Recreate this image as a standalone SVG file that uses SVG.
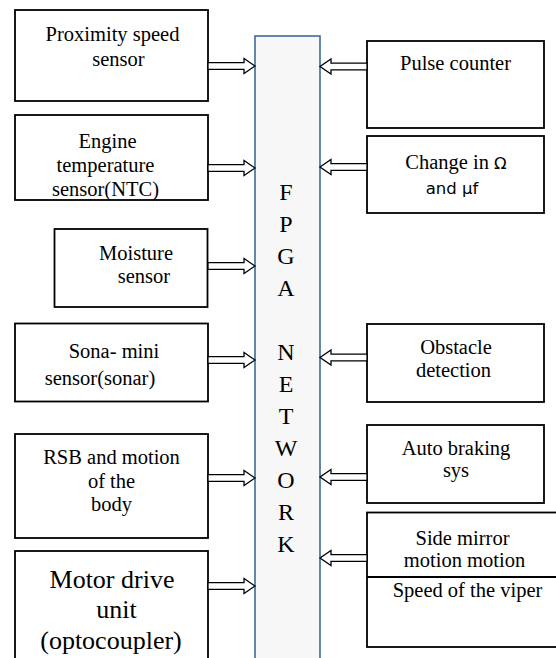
<svg xmlns="http://www.w3.org/2000/svg" xmlns:xlink="http://www.w3.org/1999/xlink" width="556" height="658" viewBox="0 0 556 658">
<style>
.box{fill:#fff;stroke:#000;stroke-width:1.8}
.t{font-family:"Liberation Serif","Times New Roman",serif;font-size:20.5px;fill:#000;text-anchor:middle}
.big{font-size:26px}
.s{font-family:"DejaVu Sans",Verdana,sans-serif;font-size:16.5px}
.fp{font-family:"Liberation Serif","Times New Roman",serif;font-size:24px;fill:#000;text-anchor:middle}
.arr{fill:#fff;stroke:#000;stroke-width:1.3;stroke-linejoin:miter}
</style>
<defs>
<path id="ar" class="arr" d="M0,-3.3 H36 V-7.5 L47,0 L36,7.5 V3.3 H0 Z"/>
<path id="al" class="arr" d="M0,-3.3 H-36 V-7.5 L-47,0 L-36,7.5 V3.3 H0 Z"/>
</defs>
<rect width="556" height="658" fill="#fff"/>

<g id="fpga">
<rect x="255" y="36" width="65" height="640" fill="#f7f7f7" stroke="#3f6a9a" stroke-width="1.6"/>
<text class="fp" x="286" y="200">F</text>
<text class="fp" x="286" y="232">P</text>
<text class="fp" x="286" y="264">G</text>
<text class="fp" x="286" y="296">A</text>
<text class="fp" x="286" y="360">N</text>
<text class="fp" x="286" y="392">E</text>
<text class="fp" x="286" y="424">T</text>
<text class="fp" x="286" y="456">W</text>
<text class="fp" x="286" y="488">O</text>
<text class="fp" x="286" y="520">R</text>
<text class="fp" x="286" y="552">K</text>
</g>

<g id="proximity">
<rect class="box" x="15" y="10" width="193" height="91"/>
<text class="t" x="112.5" y="40.5">Proximity speed</text>
<text class="t" x="118.5" y="65.5">sensor</text>
</g>

<g id="engine">
<rect class="box" x="15" y="115" width="193" height="85"/>
<text class="t" x="107.5" y="148">Engine</text>
<text class="t" x="105.5" y="172">temperature</text>
<text class="t" x="105.5" y="196">sensor(NTC)</text>
</g>

<g id="moisture">
<rect class="box" x="54.5" y="229" width="153" height="78"/>
<text class="t" x="136" y="260">Moisture</text>
<text class="t" x="144" y="283">sensor</text>
</g>

<g id="sona">
<rect class="box" x="15" y="323.5" width="193" height="78"/>
<text class="t" x="114" y="358">Sona- mini</text>
<text class="t" x="100" y="385">sensor(sonar)</text>
</g>

<g id="rsb">
<rect class="box" x="15" y="434" width="193" height="104"/>
<text class="t" x="111.5" y="463.5">RSB and motion</text>
<text class="t" x="111.5" y="487.5">of the</text>
<text class="t" x="111.5" y="511">body</text>
</g>

<g id="motor">
<rect class="box" x="15" y="551" width="193" height="130"/>
<text class="t big" x="112" y="587.5">Motor drive</text>
<text class="t big" x="116.5" y="618">unit</text>
<text class="t big" x="111" y="649">(optocoupler)</text>
</g>

<g id="pulse">
<rect class="box" x="367" y="41" width="177" height="87"/>
<text class="t" x="455.5" y="70">Pulse counter</text>
</g>

<g id="change">
<rect class="box" x="367" y="136" width="177" height="77"/>
<text class="t" x="456" y="168.5">Change in <tspan class="s">Ω</tspan></text>
<text class="t s" x="452" y="193.5">and μf</text>
</g>

<g id="obstacle">
<rect class="box" x="367" y="324" width="177" height="78"/>
<text class="t" x="456" y="354">Obstacle</text>
<text class="t" x="453.5" y="377">detection</text>
</g>

<g id="autobrake">
<rect class="box" x="367" y="425" width="177" height="78"/>
<text class="t" x="456" y="455">Auto braking</text>
<text class="t" x="456" y="477">sys</text>
</g>

<g id="sidemirror">
<rect class="box" x="367" y="512.5" width="210" height="134.5"/>
<line x1="367" y1="577" x2="556" y2="577" stroke="#000" stroke-width="1.8"/>
<text class="t" x="462.5" y="545">Side mirror</text>
<text class="t" x="464.5" y="567">motion motion</text>
<text class="t" x="467.5" y="597">Speed of the viper</text>
</g>

<g id="connectors">
<use xlink:href="#ar" x="208" y="66"/>
<use xlink:href="#ar" x="208" y="168"/>
<use xlink:href="#ar" x="208" y="266"/>
<use xlink:href="#ar" x="208" y="360"/>
<use xlink:href="#ar" x="208" y="478"/>
<use xlink:href="#ar" x="208" y="586"/>
<use xlink:href="#al" x="367" y="66.5"/>
<use xlink:href="#al" x="367" y="167"/>
<use xlink:href="#al" x="367" y="357.5"/>
<use xlink:href="#al" x="367" y="477"/>
<use xlink:href="#al" x="367" y="558"/>
</g>
</svg>
